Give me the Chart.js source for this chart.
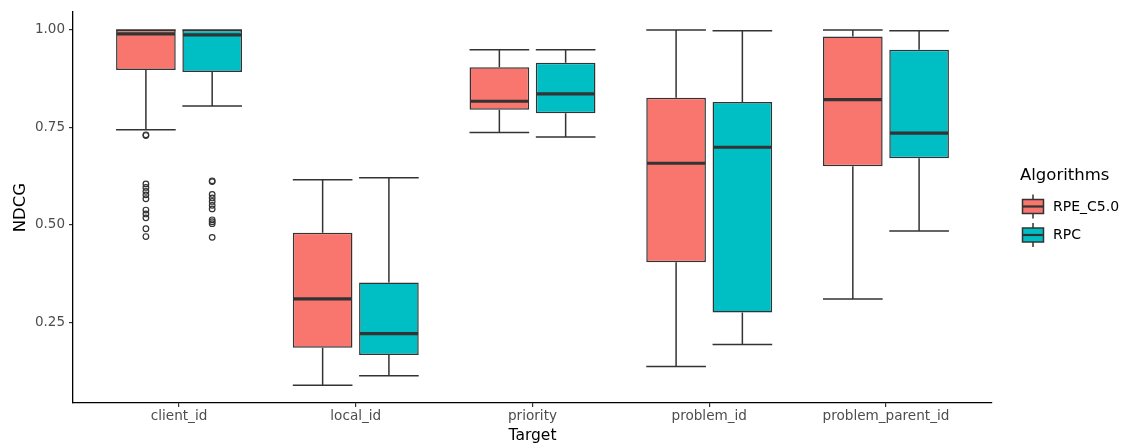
<!DOCTYPE html>
<html><head><meta charset="utf-8">
<script src="https://cdn.jsdelivr.net/npm/chart.js@4.4.0/dist/chart.umd.min.js"></script>
<style>html,body{margin:0;padding:0;background:#fff;}#wrap{width:1125px;height:445px;}</style>
</head><body><div id="wrap"><canvas id="c" width="1125" height="445"></canvas></div>
<script>
// ---- data ----
const categories = ['client_id', 'local_id', 'priority', 'problem_id', 'problem_parent_id'];
const seriesNames = ['RPE_C5.0', 'RPC'];
const yTicks = [0.25, 0.50, 0.75, 1.00];

const rpeLower  = [0.744, 0.089, 0.737, 0.137, 0.310];
const rpeQ1     = [0.897, 0.185, 0.795, 0.404, 0.650];
const rpeMedian = [0.990, 0.310, 0.817, 0.658, 0.821];
const rpeQ3     = [1.000, 0.480, 0.904, 0.826, 0.983];
const rpeUpper  = [1.000, 0.616, 0.949, 1.000, 1.000];
const rpeOutliers = [[0.731, 0.729, 0.605, 0.596, 0.586, 0.577, 0.567, 0.538, 0.528, 0.518, 0.490, 0.470], [], [], [], []];

const rpcLower  = [0.805, 0.113, 0.725, 0.193, 0.484];
const rpcQ1     = [0.892, 0.166, 0.786, 0.275, 0.671];
const rpcMedian = [0.987, 0.221, 0.836, 0.699, 0.735];
const rpcQ3     = [1.000, 0.352, 0.916, 0.815, 0.949];
const rpcUpper  = [1.000, 0.621, 0.949, 0.998, 0.998];
const rpcOutliers = [[0.613, 0.611, 0.578, 0.569, 0.560, 0.550, 0.541, 0.513, 0.508, 0.503, 0.468], [], [], [], []];

// ---- build ----
const seriesColors = ['#F8766D', '#00BFC4'];
const stats = [
  {lower: rpeLower, q1: rpeQ1, median: rpeMedian, q3: rpeQ3, upper: rpeUpper, outliers: rpeOutliers},
  {lower: rpcLower, q1: rpcQ1, median: rpcMedian, q3: rpcQ3, upper: rpcUpper, outliers: rpcOutliers}
];
const positions = categories.map((_, i) => i + 1);
const FONT = "'DejaVu Sans', 'Liberation Sans', sans-serif";
const INK = '#333333';

const datasets = stats.map((s, d) => ({
  type: 'bar',
  label: seriesNames[d],
  data: positions.map((x, i) => ({x: x, y: [s.q1[i], s.q3[i]]})),
  backgroundColor: seriesColors[d],
  borderColor: INK,
  borderWidth: 1.5,
  borderSkipped: false,
  categoryPercentage: 0.75,
  barPercentage: 0.9
}));

const boxParts = {
  id: 'boxParts',
  beforeDatasetsDraw(chart) {
    const ctx = chart.ctx, y = chart.scales.y;
    ctx.save();
    ctx.strokeStyle = INK; ctx.lineWidth = 1.5;
    stats.forEach((s, d) => {
      chart.getDatasetMeta(d).data.forEach((el, i) => {
        const x = el.x, hw = el.width / 2;
        const yl = y.getPixelForValue(s.lower[i]), yq1 = y.getPixelForValue(s.q1[i]);
        const yq3 = y.getPixelForValue(s.q3[i]), yu = y.getPixelForValue(s.upper[i]);
        ctx.beginPath();
        ctx.moveTo(x, yl); ctx.lineTo(x, yq1);
        ctx.moveTo(x, yq3); ctx.lineTo(x, yu);
        ctx.moveTo(x - hw, yl); ctx.lineTo(x + hw, yl);
        ctx.moveTo(x - hw, yu); ctx.lineTo(x + hw, yu);
        ctx.stroke();
      });
    });
    ctx.restore();
  },
  afterDatasetsDraw(chart) {
    const ctx = chart.ctx, y = chart.scales.y;
    ctx.save();
    stats.forEach((s, d) => {
      chart.getDatasetMeta(d).data.forEach((el, i) => {
        const x = el.x, hw = el.width / 2;
        const ym = y.getPixelForValue(s.median[i]);
        ctx.strokeStyle = INK; ctx.lineWidth = 3.2;
        ctx.beginPath(); ctx.moveTo(x - hw + 0.75, ym); ctx.lineTo(x + hw - 0.75, ym); ctx.stroke();
        ctx.lineWidth = 1.2;
        s.outliers[i].forEach(v => {
          ctx.beginPath();
          ctx.arc(x, y.getPixelForValue(v), 2.8, 0, Math.PI * 2);
          ctx.stroke();
        });
      });
    });
    ctx.restore();
  },
  afterDraw(chart) {
    const ctx = chart.ctx;
    ctx.save();
    ctx.fillStyle = '#000';
    ctx.textBaseline = 'middle'; ctx.textAlign = 'left';
    ctx.font = '16.5px ' + FONT;
    ctx.fillText('Algorithms', 1020, 175.5);
    seriesNames.forEach((name, d) => {
      const cy = 206.5 + d * 28.5, cx = 1033;
      ctx.strokeStyle = INK; ctx.lineWidth = 1.5;
      ctx.beginPath(); ctx.moveTo(cx, cy - 12); ctx.lineTo(cx, cy + 12); ctx.stroke();
      ctx.fillStyle = seriesColors[d];
      ctx.fillRect(1022.5, cy - 7, 21, 14);
      ctx.strokeRect(1022.5, cy - 7, 21, 14);
      ctx.lineWidth = 2.2;
      ctx.beginPath(); ctx.moveTo(1022.5, cy); ctx.lineTo(1043.5, cy); ctx.stroke();
      ctx.fillStyle = '#000';
      ctx.font = '14px ' + FONT;
      ctx.fillText(name, 1053, cy + 0.5);
    });
    ctx.restore();
  }
};

new Chart(document.getElementById('c'), {
  type: 'bar',
  data: {datasets},
  options: {
    responsive: false,
    animation: false,
    devicePixelRatio: 1,
    layout: {padding: {top: 11.5, right: 133, left: 0, bottom: 0}},
    plugins: {legend: {display: false}, tooltip: {enabled: false}},
    scales: {
      x: {
        type: 'linear', min: 0.4, max: 5.6, offset: false,
        afterBuildTicks: s => { s.ticks = positions.map(v => ({value: v})); },
        afterFit: s => { s.height = 42; },
        grid: {display: true, offset: false, drawOnChartArea: false, drawTicks: true, tickLength: 4, color: INK, lineWidth: 1.2},
        border: {display: true, color: '#000', width: 1.3},
        ticks: {callback: v => categories[Math.round(v) - 1], color: '#4D4D4D', font: {family: FONT, size: 13.6}, padding: 1, maxRotation: 0, autoSkip: false},
        title: {display: true, text: 'Target', color: '#000', font: {family: FONT, size: 15.5}, padding: {top: 0, bottom: 0}}
      },
      y: {
        type: 'linear', min: 0.0432, max: 1.0456,
        afterBuildTicks: s => { s.ticks = yTicks.map(v => ({value: v})); },
        afterFit: s => { s.width = 73; },
        grid: {display: true, drawOnChartArea: false, drawTicks: true, tickLength: 4, color: INK, lineWidth: 1.2},
        border: {display: true, color: '#000', width: 1.3},
        ticks: {callback: v => v.toFixed(2), color: '#4D4D4D', font: {family: FONT, size: 13.5}, padding: 4},
        title: {display: true, text: 'NDCG', color: '#000', font: {family: FONT, size: 16.5}, padding: {top: 11, bottom: 0}, align: 'center'}
      }
    }
  },
  plugins: [boxParts]
});
</script>
</body></html>
